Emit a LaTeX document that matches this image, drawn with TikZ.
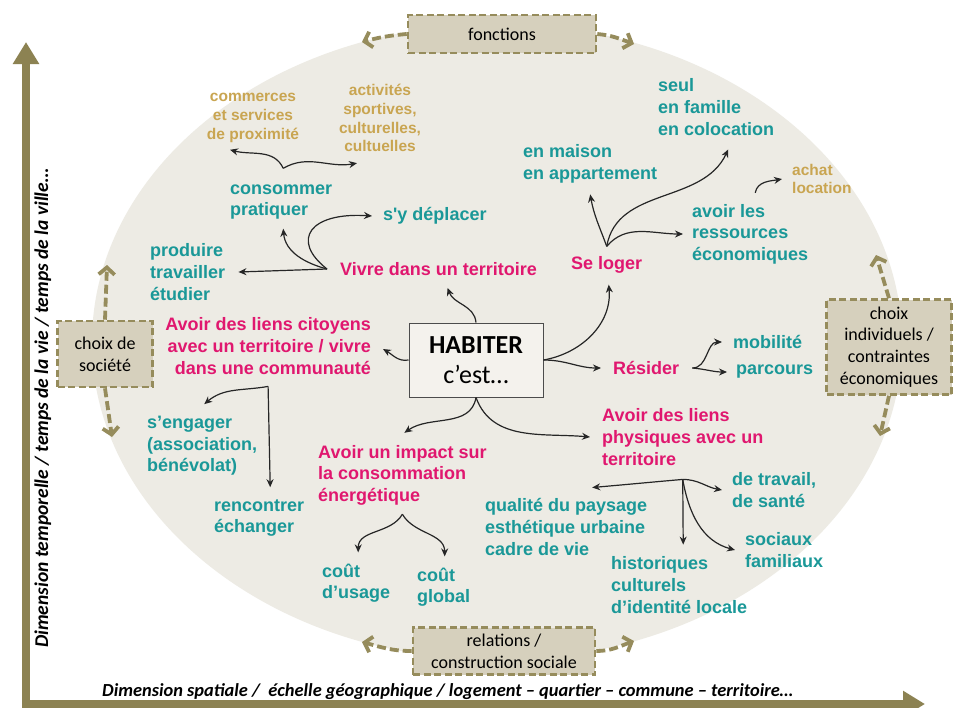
\documentclass[tikz,border=0pt]{standalone}
\usepackage{fontspec}
\setmainfont{Carlito}
\newfontfamily\arialfont{Liberation Sans}
\usetikzlibrary{arrows.meta}

\definecolor{pinkc}{HTML}{E0176F}
\definecolor{tealc}{HTML}{1A9898}
\definecolor{goldc}{HTML}{C9A551}
\definecolor{olivec}{HTML}{8C8252}
\definecolor{dashc}{HTML}{968C5C}
\definecolor{boxc}{HTML}{D6D0BD}
\definecolor{ovalc}{HTML}{EDEBE4}
\definecolor{corec}{HTML}{F4F2ED}

\begin{document}
\begin{tikzpicture}[x=1pt, y=1pt,
    theme/.style={font=\arialfont\bfseries\fontsize{18}{21.6}\selectfont, text=pinkc, align=left, inner sep=2pt},
    sub/.style={font=\arialfont\bfseries\fontsize{18}{21.6}\selectfont, text=tealc, align=left, inner sep=2pt},
    leaf/.style={font=\arialfont\bfseries\fontsize{15.5}{18.8}\selectfont, text=goldc, align=center, inner sep=2pt},
    dimbox/.style={draw=dashc, fill=boxc, line width=2.6pt, dash pattern=on 7pt off 3.5pt, align=center, font=\fontsize{18}{21.7}\selectfont, inner sep=2pt},
    core/.style={draw=black!70, fill=corec, line width=1pt, align=center, minimum width=134pt, minimum height=74pt, font=\fontsize{26}{30}\selectfont},
    link/.style={-{Stealth[length=8pt,width=7pt]}, line width=1.2pt, draw=black!85},
    dimarrow/.style={-{Straight Barb[length=7pt,width=16pt]}, draw=dashc, line width=3.8pt, dash pattern=on 9pt off 4pt},
    axis/.style={-{Triangle[length=22pt,width=25pt]}, draw=olivec, line width=8pt},
    axlabel/.style={font=\bfseries\itshape\fontsize{18.4}{21}\selectfont, anchor=base west, inner sep=0pt}]

    \useasboundingbox (0,0) rectangle (960,-707);
    \fill[white] (0,0) rectangle (960,-707);

    % Background
    \fill[ovalc] (497,-342) ellipse [x radius=405, y radius=318];

    \draw[axis] (26,-708) -- (26,-42);
    \draw[axis] (22,-704) -- (925,-704);

    \node[axlabel] (xlabel) at (102,-696) {Dimension spatiale /~ échelle géographique / logement – quartier – commune – territoire…};
    \node[axlabel, rotate=90, font=\bfseries\itshape\fontsize{19.5}{22}\selectfont] (ylabel) at (48,-648) {Dimension temporelle / temps de la vie / temps de la ville…};

    % Dimension boxes
    \node[dimbox, minimum width=188pt, minimum height=38pt] (fonc) at (502,-34) {fonctions};
    \node[dimbox, minimum width=95pt, minimum height=66pt] (soc) at (105,-354) {choix de\\société};
    \node[dimbox, minimum width=125pt, minimum height=95pt] (indiv) at (889,-347) {choix\\individuels /\\contraintes\\économiques};
    \node[dimbox, minimum width=182pt, minimum height=47pt] (rel) at (504,-651) {relations /\\construction sociale};

    \coordinate (fonc-l) at (362,-42);
    \coordinate (fonc-r) at (634,-44);
    \coordinate (soc-up) at (107,-265);
    \coordinate (soc-dn) at (112,-437);
    \coordinate (indiv-up) at (876,-255);
    \coordinate (indiv-dn) at (880,-436);
    \coordinate (rel-l) at (362,-642);
    \coordinate (rel-r) at (634,-641);

    \draw[dimarrow] (fonc.west) to[out=185, in=15] (fonc-l);
    \draw[dimarrow] (fonc.east) to[out=-5, in=160] (fonc-r);
    \draw[dimarrow] (soc.north) -- (soc-up);
    \draw[dimarrow] (soc.south) -- (soc-dn);
    \draw[dimarrow] (indiv.north) -- (indiv-up);
    \draw[dimarrow] (indiv.south) -- (indiv-dn);
    \draw[dimarrow] (rel.west) to[out=180, in=-15] (rel-l);
    \draw[dimarrow] (rel.east) to[out=0, in=200] (rel-r);

    % Nodes
    \node[core] (hab) at (476,-360) {\textbf{HABITER}\\c’est…};

    \node[theme, anchor=west] (vivre) at (338,-269) {Vivre dans un territoire};
    \node[theme, anchor=west] (loger) at (569,-265) {Se loger};
    \node[theme, anchor=east, align=right] (citoyens) at (373,-346) {Avoir des liens citoyens\\avec un territoire / vivre\\dans une communauté};
    \node[theme, anchor=west] (resider) at (611,-368) {Résider};
    \node[theme, anchor=west] (physiques) at (600,-437) {Avoir des liens\\physiques avec un\\territoire};
    \node[theme, anchor=west] (impact) at (316,-475) {Avoir un impact sur\\la consommation\\énergétique};

    \node[sub, anchor=west] (consommer) at (228,-202) {consommer\\pratiquer};
    \node[sub, anchor=west] (deplacer) at (381,-216) {s'y déplacer};
    \node[sub, anchor=west] (produire) at (148,-272) {produire\\travailler\\étudier};
    \node[sub, anchor=west] (maison) at (521,-164) {en maison\\en appartement};
    \node[sub, anchor=west] (seul) at (656,-107) {seul\\en famille\\en colocation};
    \node[sub, anchor=west] (ressources) at (690,-234) {avoir les\\ressources\\économiques};
    \node[sub, anchor=west] (mobilite) at (731,-342) {mobilité};
    \node[sub, anchor=west] (parcours) at (734,-372) {parcours};
    \node[sub, anchor=west] (engager) at (145,-446) {s’engager\\(association,\\bénévolat)};
    \node[sub, anchor=west] (rencontrer) at (212,-518) {rencontrer\\échanger};
    \node[sub, anchor=west] (usage) at (320,-583) {coût\\d’usage};
    \node[sub, anchor=west] (global) at (415,-587) {coût\\global};
    \node[sub, anchor=west] (paysage) at (483,-527) {qualité du paysage\\esthétique urbaine\\cadre de vie};
    \node[sub, anchor=west] (travail) at (730,-490) {de travail,\\de santé};
    \node[sub, anchor=west] (sociaux) at (743,-550) {sociaux\\familiaux};
    \node[sub, anchor=west] (historiques) at (609,-585) {historiques\\culturels\\d’identité locale};

    \node[leaf] (commerces) at (253,-118) {commerces\\et services\\de proximité};
    \node[leaf] (activites) at (380,-118) {activités\\sportives,\\culturelles,\\cultuelles};
    \node[leaf, anchor=west, align=left] (achat) at (790,-179) {achat\\location};

    % Branch points
    \coordinate (vivre-out) at ([xshift=-11pt]vivre.west);
    \coordinate (cons-up) at ([xshift=2pt, yshift=14pt]consommer.north);
    \coordinate (loger-up) at ([yshift=8pt]loger.north);
    \coordinate (res-up) at ([xshift=5pt, yshift=9pt]ressources.north);
    \coordinate (res-out) at ([xshift=11pt]resider.east);
    \coordinate (cit-down) at ([yshift=-10pt]citoyens.south);
    \coordinate (imp-down) at ([yshift=-7pt]impact.south);
    \coordinate (phys-down) at ([yshift=-12pt]physiques.south);

    % Edges
    \draw[link] (hab.north) to[out=95, in=-70] ([xshift=9pt, yshift=-10pt]vivre.south);
    \draw[link] (hab.west) to[out=190, in=-30] ([xshift=10pt, yshift=-3pt]citoyens.east);
    \draw[link] (hab.east) to[out=10, in=-85] ([xshift=2pt, yshift=-9pt]loger.south);
    \draw[link] (hab.east) to[out=0, in=180] ([xshift=-10pt]resider.west);
    \draw[link] (hab.south) to[out=-100, in=35] ([xshift=2pt, yshift=10pt]impact.north);
    \draw[link] (hab.south) to[out=-70, in=175] ([xshift=-10pt]physiques.west);

    \draw[link] (vivre-out) -- ([xshift=11pt]produire.east);
    \draw[link] (vivre-out) to[out=165, in=-85] ([xshift=2pt, yshift=-7pt]consommer.south);
    \draw[link] (vivre-out) .. controls +(-37,29) and +(-62,4) .. ([xshift=-9pt]deplacer.west);

    \draw[link] (cons-up) to[out=115, in=-15] ([xshift=-23pt, yshift=-5pt]commerces.south);
    \draw[link] (cons-up) to[out=30, in=190] ([xshift=-23pt, yshift=-9pt]activites.south);

    \draw[link] (loger-up) to[out=110, in=-80] ([yshift=-9pt]maison.south);
    \draw[link] (loger-up) to[out=80, in=-115] ([xshift=12pt, yshift=-12pt]seul.south);
    \draw[link] (loger-up) to[out=50, in=180] ([xshift=-7pt]ressources.west);
    \draw[link] (res-up) to[out=80, in=190] ([xshift=-8pt]achat.west);

    \draw[link] (res-out) to[out=0, in=180] ([xshift=-9pt]mobilite.west);
    \draw[link] (res-out) to[out=-5, in=180] ([xshift=-7pt]parcours.west);

    \draw[link] (cit-down) to[out=-170, in=40] ([xshift=2pt, yshift=10pt]engager.north);
    \draw[link] (cit-down) -- ([xshift=11pt, yshift=10pt]rencontrer.north);

    \draw[link] (imp-down) to[out=-120, in=90] ([xshift=2pt, yshift=9pt]usage.north);
    \draw[link] (imp-down) to[out=-60, in=90] ([xshift=1pt, yshift=9pt]global.north);

    \draw[link] (phys-down) to[out=185, in=5] ([xshift=26pt, yshift=9pt]paysage.north);
    \draw[link] (phys-down) to[out=0, in=170] ([xshift=-8pt]travail.west);
    \draw[link] (phys-down) -- ([xshift=4pt, yshift=10pt]historiques.north);
    \draw[link] (phys-down) to[out=-80, in=165] ([xshift=-8pt]sociaux.west);

\end{tikzpicture}
\end{document}
